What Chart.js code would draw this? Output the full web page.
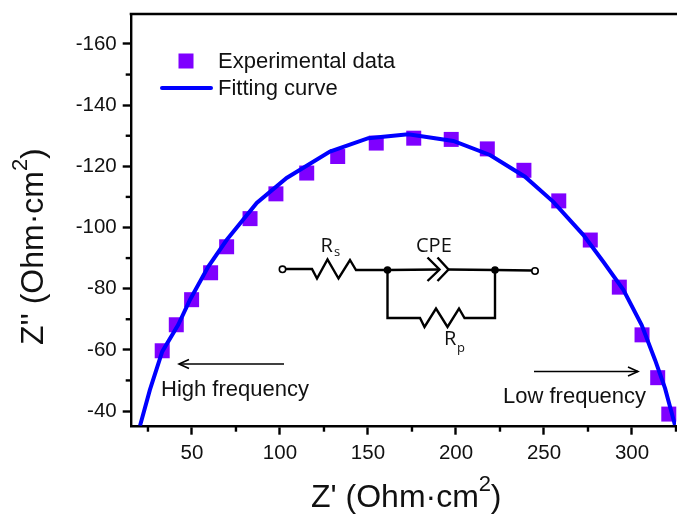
<!DOCTYPE html>
<html>
<head>
<meta charset="utf-8">
<title>Nyquist plot</title>
<script src="https://cdn.jsdelivr.net/npm/chart.js@4"></script>
<style>
    html, body { margin: 0; padding: 0; background: #fff; }
    canvas { display: block; }
</style>
</head>
<body>
<canvas id="myChart" width="677" height="514"></canvas>
<script>
const expX = [33.1, 41.1, 49.8, 60.6, 69.7, 83, 97.7, 115.2, 132.8, 154.7, 176, 197.3, 217.8, 238.6, 258.4, 276.3, 292.8, 305.7, 314.6, 320.9];
const expY = [-59.7, -68.2, -76.4, -85.2, -93.7, -102.9, -111, -117.8, -123.2, -127.6, -129.2, -128.8, -125.7, -118.7, -108.7, -95.9, -80.5, -64.9, -50.9, -39];

const fitX = [20.5, 26.1, 33.1, 42.2, 48.9, 59.3, 69.7, 86.8, 103.8, 128.4, 150.2, 172.9, 198.5, 219.3, 239.2, 255.3, 272.3, 283.7, 295.1, 305.5, 313.1, 318.8, 324.4];
const fitY = [-35.2, -46.9, -59.4, -68.2, -76.4, -87.2, -95.9, -108, -116.2, -124.8, -129.2, -130.5, -128.3, -123.7, -116.6, -108.4, -97.6, -88.8, -79.6, -68.1, -56.7, -47.4, -35.4];

const xMajor = [50, 100, 150, 200, 250, 300];
const xMinor = [25, 75, 125, 175, 225, 275, 325];
const yMajor = [-40, -60, -80, -100, -120, -140, -160];
const yMinor = [-50, -70, -90, -110, -130, -150];

const toPoints = (xs, ys) => xs.map((x, i) => ({ x: x, y: ys[i] }));

const ARIAL = '"Liberation Sans", Arial, sans-serif';
const CIRCUIT_FONT = '"Open Sans", sans-serif';

function polyline(ctx, pts) {
    ctx.beginPath();
    pts.forEach((p, i) => i ? ctx.lineTo(p[0], p[1]) : ctx.moveTo(p[0], p[1]));
    ctx.stroke();
}

function dot(ctx, x, y, r, fill) {
    ctx.beginPath();
    ctx.arc(x, y, r, 0, Math.PI * 2);
    ctx.fillStyle = fill;
    ctx.fill();
    ctx.stroke();
}

function arrow(ctx, x1, x2, y) {
    const d = x2 > x1 ? -1 : 1;
    ctx.lineWidth = 1.6;
    polyline(ctx, [[x1, y], [x2, y]]);
    polyline(ctx, [[x2 + d * 10, y - 4.5], [x2, y], [x2 + d * 10, y + 4.5]]);
}

// the ticks chart.js gives us all have one length, the short ones go in here
const minorTicks = {
    id: 'minorTicks',
    afterDraw(chart) {
        const ctx = chart.ctx, xs = chart.scales.x, ys = chart.scales.y;
        ctx.save();
        ctx.strokeStyle = '#000';
        ctx.lineWidth = 2.4;
        xMinor.forEach(v => {
            const p = xs.getPixelForValue(v);
            polyline(ctx, [[p, xs.top], [p, xs.top + 6]]);
        });
        yMinor.forEach(v => {
            const p = ys.getPixelForValue(v);
            polyline(ctx, [[ys.right - 5, p], [ys.right, p]]);
        });
        // top frame line
        polyline(ctx, [[chart.chartArea.left - 1, chart.chartArea.top], [677, chart.chartArea.top]]);
        ctx.restore();
    }
};

const extras = {
    id: 'extras',
    afterDraw(chart) {
        const ctx = chart.ctx;
        ctx.save();
        ctx.fillStyle = '#000';
        ctx.strokeStyle = '#000';
        ctx.textBaseline = 'alphabetic';
        ctx.lineCap = 'butt';
        ctx.lineJoin = 'miter';

        // legend
        ctx.fillStyle = '#7f00ff';
        ctx.fillRect(178.5, 53.5, 15, 15);
        ctx.strokeStyle = '#0000ff';
        ctx.lineWidth = 4;
        ctx.lineCap = 'round';
        polyline(ctx, [[162, 88], [211, 88]]);
        ctx.lineCap = 'butt';
        ctx.strokeStyle = '#000';
        ctx.fillStyle = '#111';
        ctx.font = '22px ' + ARIAL;
        ctx.fillText('Experimental data', 218, 68);
        ctx.fillText('Fitting curve', 218, 95);

        // axis titles
        ctx.font = '32px ' + ARIAL;
        ctx.fillText("Z' (Ohm·cm", 311, 507);
        let w = ctx.measureText("Z' (Ohm·cm").width;
        ctx.font = '22px ' + ARIAL;
        ctx.fillText('2', 311 + w, 491);
        ctx.font = '32px ' + ARIAL;
        ctx.fillText(')', 311 + w + 12, 507);

        ctx.save();
        ctx.translate(43, 345);
        ctx.rotate(-Math.PI / 2);
        ctx.fillText("Z'' (Ohm·cm", 0, 0);
        w = ctx.measureText("Z'' (Ohm·cm").width;
        ctx.font = '22px ' + ARIAL;
        ctx.fillText('2', w, -16);
        ctx.font = '32px ' + ARIAL;
        ctx.fillText(')', w + 12, 0);
        ctx.restore();

        // frequency notes
        ctx.font = '22px ' + ARIAL;
        ctx.fillText('High frequency', 161, 396);
        ctx.fillText('Low frequency', 503, 403);
        arrow(ctx, 284, 179, 364);
        arrow(ctx, 534, 638, 371.5);

        // equivalent circuit
        ctx.lineWidth = 2.4;
        polyline(ctx, [[285, 269], [312, 269], [317, 278.5], [327.5, 259.5], [338.5, 278.5], [350, 260], [356, 270], [387.5, 270]]);
        polyline(ctx, [[387.5, 270], [439, 269.5]]);
        polyline(ctx, [[427.5, 257.5], [439.5, 269.5], [427.5, 281]]);
        polyline(ctx, [[437.5, 257.5], [448.5, 269.5], [437.5, 281]]);
        polyline(ctx, [[448, 269.5], [495, 270], [532, 270.5]]);
        polyline(ctx, [[387.5, 270], [387.5, 318], [420, 318], [424.5, 327], [436, 308.5], [447.5, 327], [459, 308.5], [464.5, 318], [495, 318], [495, 270]]);
        ctx.lineWidth = 1.6;
        dot(ctx, 282.5, 269.3, 3.2, '#fff');
        dot(ctx, 535, 271, 3.2, '#fff');
        dot(ctx, 387.5, 270, 3, '#000');
        dot(ctx, 495, 270, 3, '#000');

        ctx.fillStyle = '#111';
        ctx.font = '20px ' + CIRCUIT_FONT;
        ctx.fillText('R', 320.5, 252);
        ctx.fillText('CPE', 416, 252);
        ctx.fillText('R', 444, 345);
        ctx.font = '13px ' + CIRCUIT_FONT;
        ctx.fillText('s', 334, 256);
        ctx.fillText('p', 457, 352);
        ctx.restore();
    }
};

var ctx = document.getElementById('myChart').getContext('2d');

var myChart = new Chart(ctx, {
    type: 'scatter',
    data: {
        datasets: [
            {
                label: 'Experimental data',
                data: toPoints(expX, expY),
                pointStyle: 'rect',
                pointRadius: 10.6,
                pointHoverRadius: 10.6,
                pointBackgroundColor: '#7f00ff',
                pointBorderWidth: 0,
                showLine: false,
                clip: false,
                order: 2
            },
            {
                label: 'Fitting curve',
                data: toPoints(fitX, fitY),
                showLine: true,
                borderColor: '#0000ff',
                borderWidth: 4,
                pointRadius: 0,
                tension: 0,
                order: 1
            }
        ]
    },
    options: {
        responsive: false,
        animation: false,
        devicePixelRatio: 1,
        layout: { autoPadding: false, padding: { top: 14, right: 1, left: 0, bottom: 0 } },
        plugins: { legend: { display: false }, title: { display: false }, tooltip: { enabled: false } },
        scales: {
            x: {
                type: 'linear',
                min: 15.2,
                max: 325,
                afterBuildTicks: s => { s.ticks = xMajor.map(v => ({ value: v })); },
                afterFit: s => { s.height = 88.3; s.paddingLeft = 0; s.paddingRight = 0; },
                border: { color: '#000', width: 2.4 },
                grid: { drawOnChartArea: false, tickLength: 9, tickWidth: 2.4, tickColor: '#000' },
                ticks: { color: '#111', padding: 6, maxRotation: 0, autoSkip: false, font: { family: ARIAL, size: 20.5 }, callback: v => String(v) }
            },
            y: {
                type: 'linear',
                reverse: true,
                min: -169.8,
                max: -35.2,
                afterBuildTicks: s => { s.ticks = yMajor.map(v => ({ value: v })); },
                afterFit: s => { s.width = 130.7; s.paddingTop = 0; s.paddingBottom = 0; },
                border: { color: '#000', width: 2.4 },
                grid: { drawOnChartArea: false, tickLength: 8, tickWidth: 2.4, tickColor: '#000' },
                ticks: { color: '#111', padding: 6, autoSkip: false, font: { family: ARIAL, size: 20.5 }, callback: v => String(v) }
            }
        }
    },
    plugins: [minorTicks, extras]
});
</script>
</body>
</html>
